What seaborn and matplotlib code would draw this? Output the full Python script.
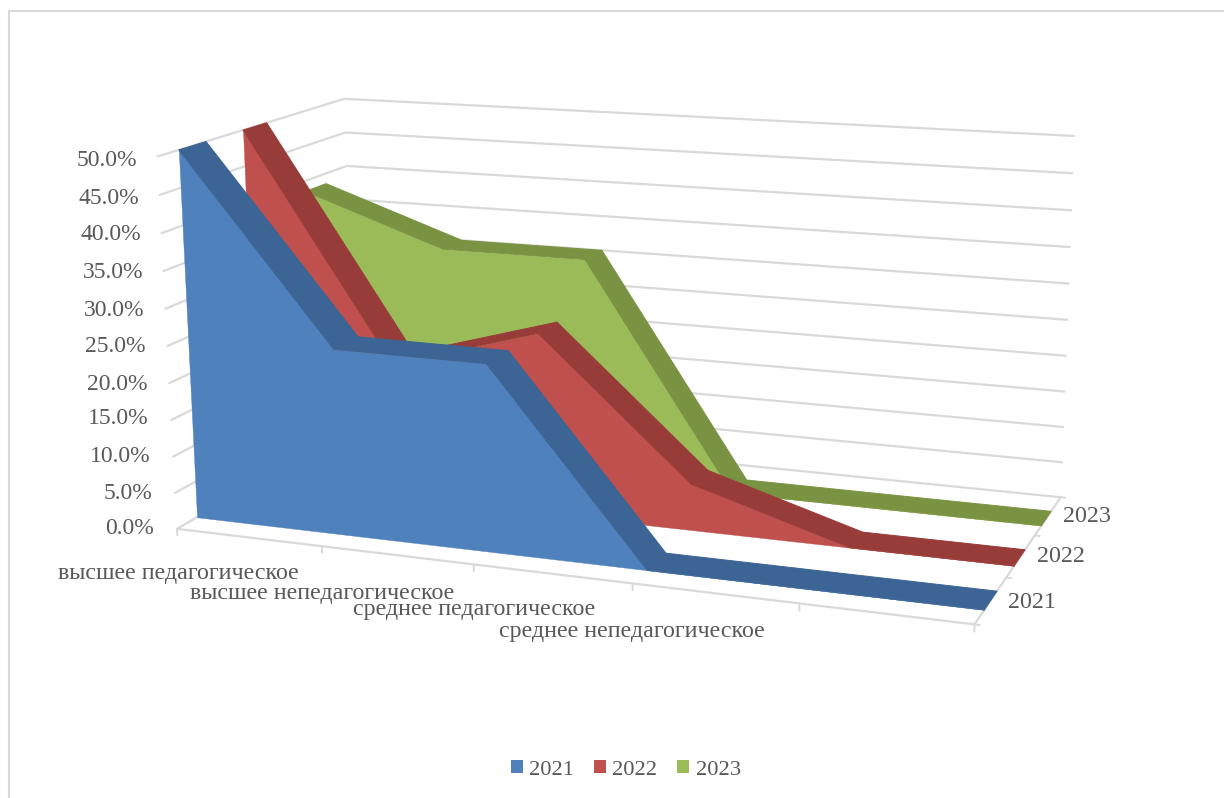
import numpy as np
import matplotlib
matplotlib.use("Agg")
import matplotlib.pyplot as plt
from matplotlib.lines import Line2D
from matplotlib.patches import Patch
from mpl_toolkits.mplot3d.art3d import Poly3DCollection
import seaborn as sns

W, H = 1224, 798

# значения читаются с картинки
years = ["2021", "2022", "2023"]
categories = ["высшее педагогическое", "высшее непедагогическое",
              "среднее педагогическое", "среднее непедагогическое", "", ""]
values_2021 = [50.0, 25.1, 25.0, 0.0, 0.0, 0.0]
values_2022 = [50.0, 19.0, 25.0, 6.3, 0.0, 0.0]
values_2023 = [38.5, 31.5, 31.5, 0.0, 0.0, 0.0]
z_ticks = [0, 5, 10, 15, 20, 25, 30, 35, 40, 45, 50]

sns.set_theme(style="white")
plt.rcParams["font.family"] = ["Liberation Serif", "DejaVu Serif"]
face_colors = sns.color_palette(["#4F81BD", "#C0504D", "#9BBB59"])
band_colors = sns.color_palette(["#3C6494", "#983C3A", "#7A9343"])
text_color = "#595959"
grid_color = "#D9D9D9"

fig = plt.figure(figsize=(W / 100, H / 100), dpi=100, facecolor="white")
ax = fig.add_axes([0, 0, 1, 1], projection="3d", computed_zorder=False)
ax.set_xlim(0, 5, view_margin=0)
ax.set_ylim(0, 3, view_margin=0)
ax.set_zlim(0, 50, view_margin=0)
ax.view_init(elev=13.78, azim=-69.31, roll=0.39)
ax.set_proj_type("persp", focal_length=0.486)
ax.set_box_aspect((4.143, 2.026, 1.927))
ax.set_axis_off()
ax.patch.set_alpha(0)

# подгонка квадратных осей под пиксели картинки
k, cx, cy = 5138.6, 624.7, 332.7
x0, x1 = ax.viewLim.intervalx
y0, y1 = ax.viewLim.intervaly
ax.set_position([(cx + k * x0) / W, (H - cy + k * y0) / H, k * (x1 - x0) / W, k * (y1 - y0) / H])

# стенки и пол
for z in z_ticks:
    ax.plot([0, 0, 5], [0, 3, 3], [z, z, z], color=grid_color, lw=1.6, zorder=1)
ax.plot([0, 5, 5], [0, 0, 3], [0, 0, 0], color=grid_color, lw=1.6, zorder=1)
for i in range(6):
    ax.plot([i, i], [0, 0], [0, -0.9], color=grid_color, lw=1.4, zorder=1)
for j in range(4):
    ax.plot([5, 5.03], [j, j], [0, 0], color=grid_color, lw=1.4, zorder=1)

# сзади вперёд: 2023, 2022, 2021
xs = np.arange(len(categories))
series = [values_2021, values_2022, values_2023]
depth_front = [0.3, 1.27, 2.25]
depth_back = [0.7, 1.65, 2.62]
for i in [2, 1, 0]:
    vals = series[i]
    front, back = depth_front[i], depth_back[i]
    z_order = 10 + (2 - i) * 2
    face = [(x, front, v) for x, v in zip(xs, vals)] + [(5, front, 0), (0, front, 0)]
    ax.add_collection3d(Poly3DCollection([face], facecolors=[face_colors[i]], edgecolors=[face_colors[i]],
                                         linewidths=0.3, zorder=z_order))
    bands = []
    for a in range(len(xs) - 1):
        bands.append([(xs[a], front, vals[a]), (xs[a + 1], front, vals[a + 1]),
                      (xs[a + 1], back, vals[a + 1]), (xs[a], back, vals[a])])
    ax.add_collection3d(Poly3DCollection(bands, facecolors=[band_colors[i]], edgecolors=[band_colors[i]],
                                         linewidths=0.7, zorder=z_order + 1))


def put(px, py, s, ha="center", size=17.3):
    # va=center у этого шрифта даёт примерно на 3 px выше
    fig.text(px / W, 1 - (py + 3) / H, s, ha=ha, va="center", fontsize=size, color=text_color)


# подписи оси значений
z_label_y = [525, 490, 453, 416, 381, 344, 307, 270, 232, 195, 157]
z_label_x = [154, 152, 151, 149, 147, 146, 144, 143, 141, 139, 137]
for z, px, py in zip(z_ticks, z_label_x, z_label_y):
    put(px, py, f"{z:.1f}%", ha="right", size=17)

# подписи категорий лесенкой, как в оригинале
cat_x = [178, 322, 474, 632]
cat_y = [570, 591, 607, 628]
for s, px, py in zip(categories, cat_x, cat_y):
    put(px, py, s)

for s, px, py in zip(years, [1032, 1061, 1087], [600, 553, 513]):
    put(px, py, s)

handles = [Patch(facecolor=c, edgecolor="none", label=y) for c, y in zip(face_colors, years)]
fig.legend(handles=handles, loc="center", bbox_to_anchor=(626 / W, 1 - 770 / H), ncol=3, frameon=False,
           fontsize=16.2, labelcolor=text_color, handlelength=0.533, handleheight=0.533,
           handletextpad=0.27, columnspacing=0.89)

# рамка области диаграммы
fig.add_artist(Line2D([8.5 / W, 8.5 / W, 1], [0, 1 - 10.5 / H, 1 - 10.5 / H], color=grid_color, lw=1.5))

fig.savefig("out.png", dpi=100)
